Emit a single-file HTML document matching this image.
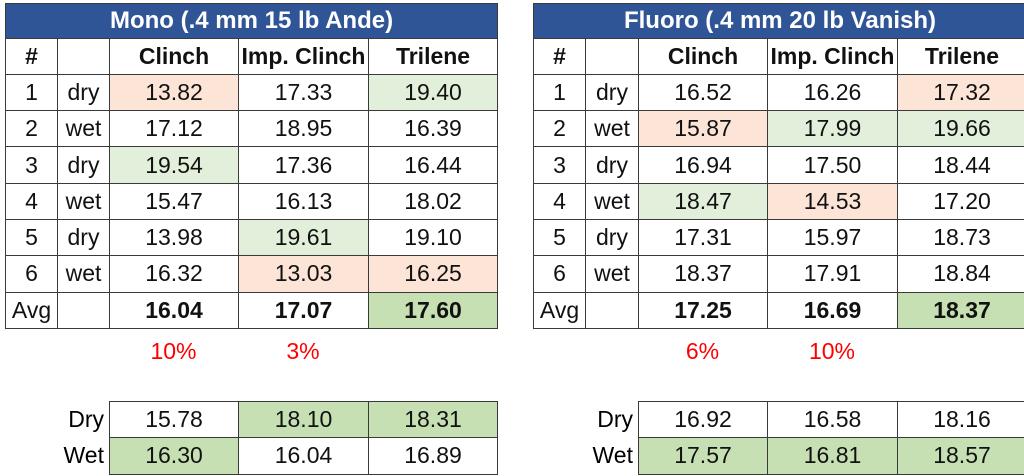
<!DOCTYPE html>
<html><head><meta charset="utf-8"><style>
body{margin:0;width:1024px;height:476px;background:#fff;position:relative;overflow:hidden;font-family:"Liberation Sans",sans-serif;}
table{position:absolute;border-collapse:collapse;table-layout:fixed;font-size:23px;color:#111;}
td{border:1.5px solid #3a3a3a;text-align:center;height:35.3px;padding:0;white-space:nowrap;}
td.t{background:#2F5597;color:#fff;font-weight:bold;height:33.5px;font-size:24px;}
.h td{font-weight:bold;}
.b{font-weight:bold;}
.p{background:#FCE4D6}.g{background:#E2EFDA}.G{background:#C6E0B4}
.pct{position:absolute;color:#f00;font-size:23px;text-align:center;top:338px;}
.lab{position:absolute;font-size:23px;text-align:right;width:60px;}
</style></head><body>
<table style="left:5px;top:3px;width:492px">
<colgroup><col style="width:52px"><col style="width:52px"><col style="width:129px"><col style="width:130px"><col style="width:129px"></colgroup>
<tr><td class="t" colspan="5">Mono (.4 mm 15 lb Ande)</td></tr>
<tr class="h"><td>#</td><td></td><td>Clinch</td><td>Imp. Clinch</td><td>Trilene</td></tr>
<tr><td>1</td><td>dry</td><td class="p">13.82</td><td>17.33</td><td class="g">19.40</td></tr>
<tr><td>2</td><td>wet</td><td>17.12</td><td>18.95</td><td>16.39</td></tr>
<tr><td>3</td><td>dry</td><td class="g">19.54</td><td>17.36</td><td>16.44</td></tr>
<tr><td>4</td><td>wet</td><td>15.47</td><td>16.13</td><td>18.02</td></tr>
<tr><td>5</td><td>dry</td><td>13.98</td><td class="g">19.61</td><td>19.10</td></tr>
<tr><td>6</td><td>wet</td><td>16.32</td><td class="p">13.03</td><td class="p">16.25</td></tr>
<tr><td>Avg</td><td></td><td class="b">16.04</td><td class="b">17.07</td><td class="b G">17.60</td></tr>
</table>
<div class="pct" style="left:109px;width:129px">10%</div>
<div class="pct" style="left:238px;width:130px">3%</div>
<div class="lab" style="left:44px;top:406px">Dry</div>
<div class="lab" style="left:44px;top:442px">Wet</div>
<table style="left:109px;top:401px;width:388px">
<colgroup><col style="width:129px"><col style="width:130px"><col style="width:129px"></colgroup>
<tr><td>15.78</td><td class="G">18.10</td><td class="G">18.31</td></tr>
<tr><td class="G">16.30</td><td>16.04</td><td>16.89</td></tr>
</table>

<table style="left:533px;top:3px;width:493px">
<colgroup><col style="width:52px"><col style="width:53px"><col style="width:129px"><col style="width:130px"><col style="width:129px"></colgroup>
<tr><td class="t" colspan="5">Fluoro (.4 mm 20 lb Vanish)</td></tr>
<tr class="h"><td>#</td><td></td><td>Clinch</td><td>Imp. Clinch</td><td>Trilene</td></tr>
<tr><td>1</td><td>dry</td><td>16.52</td><td>16.26</td><td class="p">17.32</td></tr>
<tr><td>2</td><td>wet</td><td class="p">15.87</td><td class="g">17.99</td><td class="g">19.66</td></tr>
<tr><td>3</td><td>dry</td><td>16.94</td><td>17.50</td><td>18.44</td></tr>
<tr><td>4</td><td>wet</td><td class="g">18.47</td><td class="p">14.53</td><td>17.20</td></tr>
<tr><td>5</td><td>dry</td><td>17.31</td><td>15.97</td><td>18.73</td></tr>
<tr><td>6</td><td>wet</td><td>18.37</td><td>17.91</td><td>18.84</td></tr>
<tr><td>Avg</td><td></td><td class="b">17.25</td><td class="b">16.69</td><td class="b G">18.37</td></tr>
</table>
<div class="pct" style="left:638px;width:129px">6%</div>
<div class="pct" style="left:767px;width:130px">10%</div>
<div class="lab" style="left:573px;top:406px">Dry</div>
<div class="lab" style="left:573px;top:442px">Wet</div>
<table style="left:638px;top:401px;width:388px">
<colgroup><col style="width:129px"><col style="width:130px"><col style="width:129px"></colgroup>
<tr><td>16.92</td><td>16.58</td><td>18.16</td></tr>
<tr><td class="G">17.57</td><td class="G">16.81</td><td class="G">18.57</td></tr>
</table>
</body></html>
